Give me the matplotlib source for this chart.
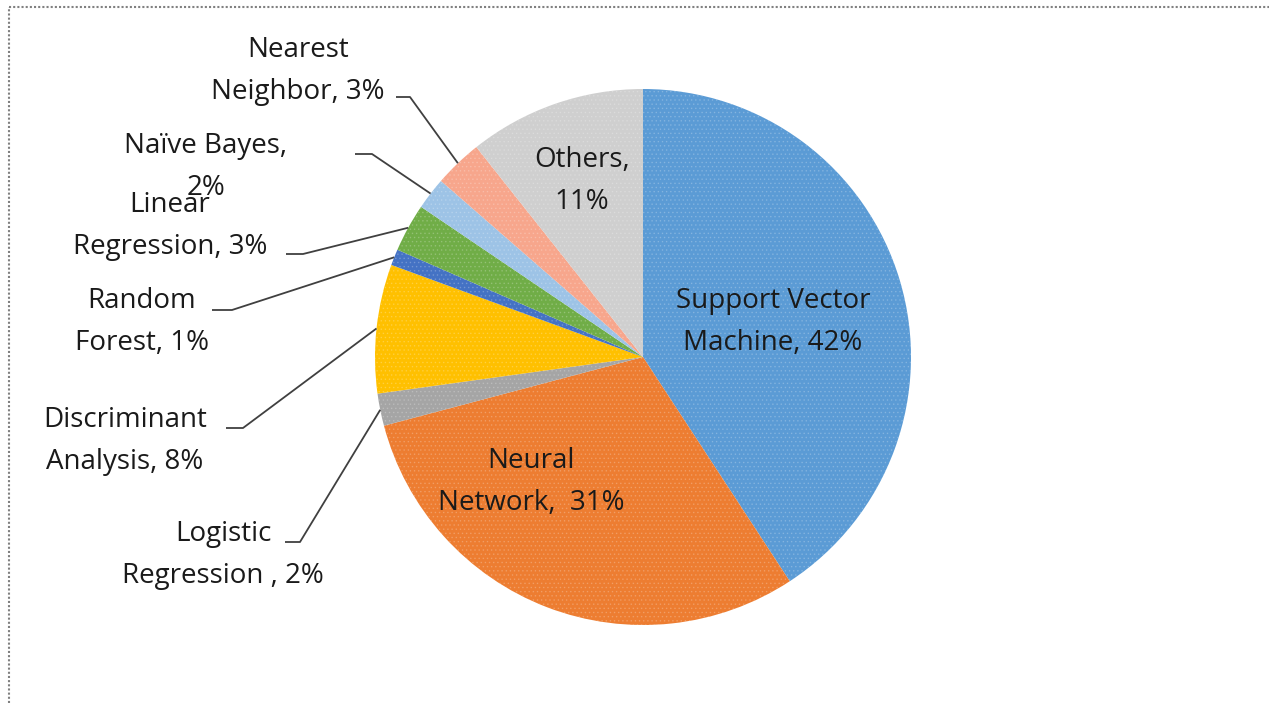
import numpy as np
import matplotlib.pyplot as plt
from matplotlib.lines import Line2D

W, H = 1269, 703

# data (clockwise from 12 o'clock)
names = ['Support Vector\nMachine', 'Neural\nNetwork', 'Logistic\nRegression',
         'Discriminant\nAnalysis', 'Random\nForest', 'Linear\nRegression',
         'Naïve Bayes', 'Nearest\nNeighbor', 'Others']
shares = [42, 31, 2, 8, 1, 3, 2, 3, 11]
seps = [', ', ',  ', ' , ', ', ', ', ', ', ', ',\n', ', ', ',\n']
colors = ['#5B9BD5', '#ED7D31', '#A5A5A5', '#FFC000', '#4472C4',
          '#70AD47', '#9DC3E6', '#F7A68C', '#CFCFCF']

# layout in image pixels (x right, y down)
centre_px = (643, 357)
radius_px = 268
label_px = [(773, 322), (531, 482), (223, 555), (125, 441), (142, 322),
            (170, 226), (206, 167), (298, 71), (582, 181)]
# leader elbow (start, end of the short horizontal bit); None = label inside
elbow_px = [None, None, ((285, 542), (300, 542)), ((226, 428), (243, 428)),
            ((212, 310), (232, 310)), ((286, 254), (303, 254)),
            ((355, 154), (372, 154)), ((396, 97), (410, 97)), None]


def fy(y):
    return H - y


plt.rcParams['font.family'] = ['Open Sans', 'DejaVu Sans']
plt.rcParams['hatch.linewidth'] = 0.6

fig = plt.figure(figsize=(W / 100, H / 100), dpi=100)
ax = fig.add_axes([0, 0, 1, 1])

wedges, _ = ax.pie(shares, colors=colors, startangle=90, counterclock=False,
                   center=(centre_px[0], fy(centre_px[1])), radius=radius_px,
                   wedgeprops=dict(linewidth=0), frame=True)
ax.set_xlim(0, W)
ax.set_ylim(0, H)
ax.axis('off')

# fine dotted texture like the original
for w in wedges:
    w.set_hatch('....')
    w.set_edgecolor((1, 1, 1, 0.18))

cx, cy = centre_px[0], fy(centre_px[1])
for i, w in enumerate(wedges):
    text = f"{names[i]}{seps[i]}{shares[i]}%"
    lx, ly = label_px[i]
    ax.text(lx, fy(ly), text, ha='center', va='center', fontsize=20,
            linespacing=1.62, color='#1a1a1a')
    if elbow_px[i] is not None:
        mid = np.deg2rad((w.theta1 + w.theta2) / 2)
        ex = cx + radius_px * np.cos(mid)
        ey = cy + radius_px * np.sin(mid)
        (x0, y0), (x1, y1) = elbow_px[i]
        ax.plot([x0, x1, ex], [fy(y0), fy(y1), ey], color='#404040', lw=1.3,
                solid_capstyle='butt')

# dotted chart-area border (top and left edges visible)
fig.add_artist(Line2D([9 / W, 9 / W], [0, 1 - 7 / H], color='#808080',
                      lw=1.5, ls=(0, (1, 1))))
fig.add_artist(Line2D([9 / W, 1], [1 - 7 / H, 1 - 7 / H], color='#808080',
                      lw=1.5, ls=(0, (1, 1))))

fig.savefig('out.png', dpi=100)
